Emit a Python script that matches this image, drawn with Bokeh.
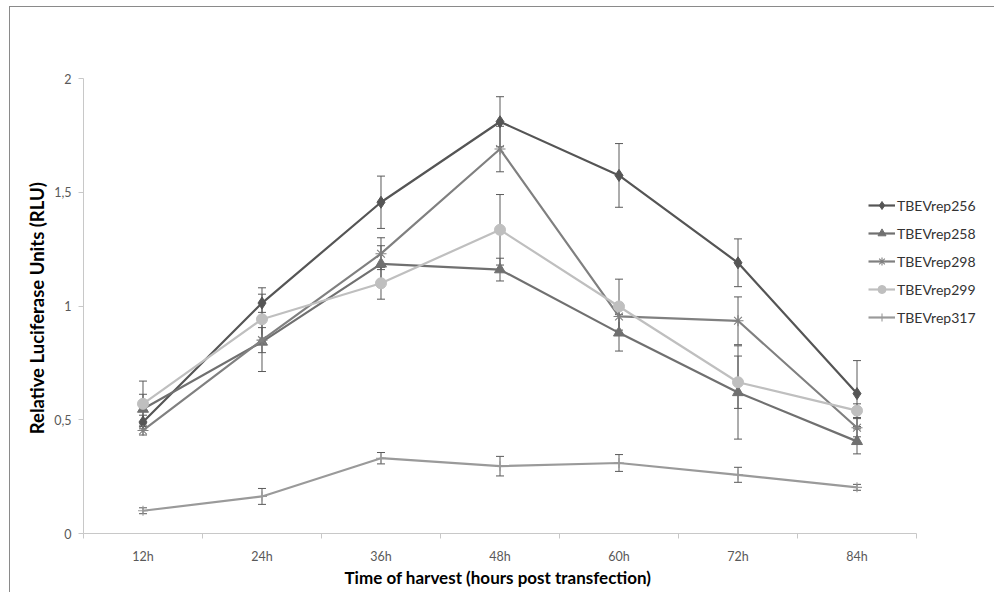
from bokeh.plotting import figure
from bokeh.models import (FactorRange, Range1d, LinearAxis, FixedTicker, CustomJSTickFormatter,
                          ColumnDataSource, Whisker, TeeHead, Legend, LegendItem)
from bokeh.embed import file_html
from bokeh.resources import INLINE

# ---------------- data ----------------
times = ["12h", "24h", "36h", "48h", "60h", "72h", "84h"]
series_names = ["TBEVrep256", "TBEVrep258", "TBEVrep298", "TBEVrep299", "TBEVrep317"]

rep256 = [0.49, 1.013, 1.456, 1.81, 1.574, 1.19, 0.615]
rep258 = [0.547, 0.842, 1.185, 1.16, 0.882, 0.62, 0.405]
rep298 = [0.453, 0.85, 1.23, 1.69, 0.954, 0.935, 0.465]
rep299 = [0.57, 0.942, 1.10, 1.335, 0.998, 0.665, 0.54]
rep317 = [0.10, 0.163, 0.331, 0.296, 0.31, 0.258, 0.203]

err256 = [0.03, 0.067, 0.115, 0.11, 0.14, 0.105, 0.145]
err258 = [0.065, 0.13, 0.08, 0.05, 0.08, 0.205, 0.055]
err298 = [0.02, 0.055, 0.07, 0.10, 0.06, 0.105, 0.04]
err299 = [0.10, 0.11, 0.07, 0.155, 0.12, 0.115, 0.03]
err317 = [0.013, 0.035, 0.025, 0.043, 0.037, 0.033, 0.013]

y_ticks = [0, 0.5, 1, 1.5, 2]

values = [rep256, rep258, rep298, rep299, rep317]
errors = [err256, err258, err298, err299, err317]
colors = ["#555555", "#707070", "#808080", "#bfbfbf", "#9a9a9a"]
markers = ["diamond", "triangle", "asterisk", "circle", "cross"]
msizes = [12, 11, 11, 11, 10]

FONT = "Lato"
N = len(times)

# frame: 963 px wide; categories occupy 119 px each, extra room on the right for the legend
xr = FactorRange(*times, range_padding=0.5462, range_padding_units="absolute")
# frame: 523 px tall; value axis 0..2 spans 455 px, room below for the category axis texts
yr = Range1d(-0.2637, 2.0352)

p = figure(width=985, height=586, x_range=xr, y_range=yr,
           output_backend="svg", toolbar_location=None,
           x_axis_location=None, y_axis_location=None,
           min_border_left=8, min_border_right=14, min_border_top=63, min_border_bottom=0)
p.outline_line_color = None
p.grid.grid_line_color = None
p.styles = {"border-left": "1px solid #8a8a8a", "border-top": "1px solid #8a8a8a",
            "margin-left": "9px", "margin-top": "6px"}

# y axis, fixed at the left edge of the first category
yaxis = LinearAxis(ticker=FixedTicker(ticks=y_ticks), fixed_location=0, bounds=(0, 2),
                   formatter=CustomJSTickFormatter(code="return tick.toString().replace('.', ',')"),
                   axis_label="Relative Luciferase  Units (RLU)")
yaxis.axis_line_color = "#c8c8c8"
yaxis.major_tick_line_color = "#c8c8c8"
yaxis.major_tick_out = 5
yaxis.major_tick_in = 0
yaxis.minor_tick_line_color = None
yaxis.major_label_standoff = 7
yaxis.major_label_text_font = FONT
yaxis.major_label_text_font_size = "12.5px"
yaxis.major_label_text_color = "#595959"
yaxis.axis_label_text_font = FONT
yaxis.axis_label_text_font_style = "bold"
yaxis.axis_label_text_font_size = "18.5px"
yaxis.axis_label_text_color = "#000000"
yaxis.axis_label_standoff = 3
p.add_layout(yaxis, "left")

# x axis at value 0: category labels at centers, tick marks at category boundaries
xaxis = LinearAxis(ticker=FixedTicker(ticks=[i + 0.5 for i in range(N)],
                                      minor_ticks=list(range(N + 1))),
                   fixed_location=0, bounds=(0, N),
                   formatter=CustomJSTickFormatter(args=dict(labels=times),
                                                   code="return labels[Math.floor(tick)]"),
                   axis_label="Time of harvest (hours post  transfection)")
xaxis.axis_line_color = "#c8c8c8"
xaxis.major_tick_line_color = None
xaxis.major_tick_out = 0
xaxis.major_tick_in = 0
xaxis.minor_tick_line_color = "#c8c8c8"
xaxis.minor_tick_out = 5
xaxis.minor_tick_in = 0
xaxis.major_label_standoff = 10
xaxis.major_label_text_font = FONT
xaxis.major_label_text_font_size = "12.5px"
xaxis.major_label_text_color = "#595959"
xaxis.axis_label_text_font = FONT
xaxis.axis_label_text_font_style = "bold"
xaxis.axis_label_text_font_size = "17px"
xaxis.axis_label_text_color = "#000000"
xaxis.axis_label_standoff = 0
p.add_layout(xaxis, "below")

items = []
for name, vals, errs, col, mk, ms in zip(series_names, values, errors, colors, markers, msizes):
    src = ColumnDataSource(dict(x=times, y=vals,
                                lower=[v - e for v, e in zip(vals, errs)],
                                upper=[v + e for v, e in zip(vals, errs)]))
    w = Whisker(base="x", lower="lower", upper="upper", source=src,
                line_color="#5a5a5a", line_width=1,
                upper_head=TeeHead(size=8, line_color="#5a5a5a", line_width=1),
                lower_head=TeeHead(size=8, line_color="#5a5a5a", line_width=1))
    p.add_layout(w)
    lr = p.line("x", "y", source=src, line_color=col, line_width=2.2)
    if mk in ("asterisk", "cross"):
        sr = p.scatter("x", "y", source=src, marker=mk, size=ms, line_color=col, line_width=1.1)
    else:
        sr = p.scatter("x", "y", source=src, marker=mk, size=ms, fill_color=col, line_color=col)
    items.append(LegendItem(label=name, renderers=[lr, sr]))

# legend location is measured from the frame's bottom-left corner
legend = Legend(items=items, location=(850, 266), orientation="vertical",
                glyph_width=27, glyph_height=20, label_height=20, label_standoff=2,
                spacing=8, padding=0, margin=0,
                border_line_color=None, background_fill_alpha=0,
                label_text_font=FONT, label_text_font_size="14px", label_text_color="#333333")
p.add_layout(legend)

open("out.html", "w").write(file_html(p, INLINE))
